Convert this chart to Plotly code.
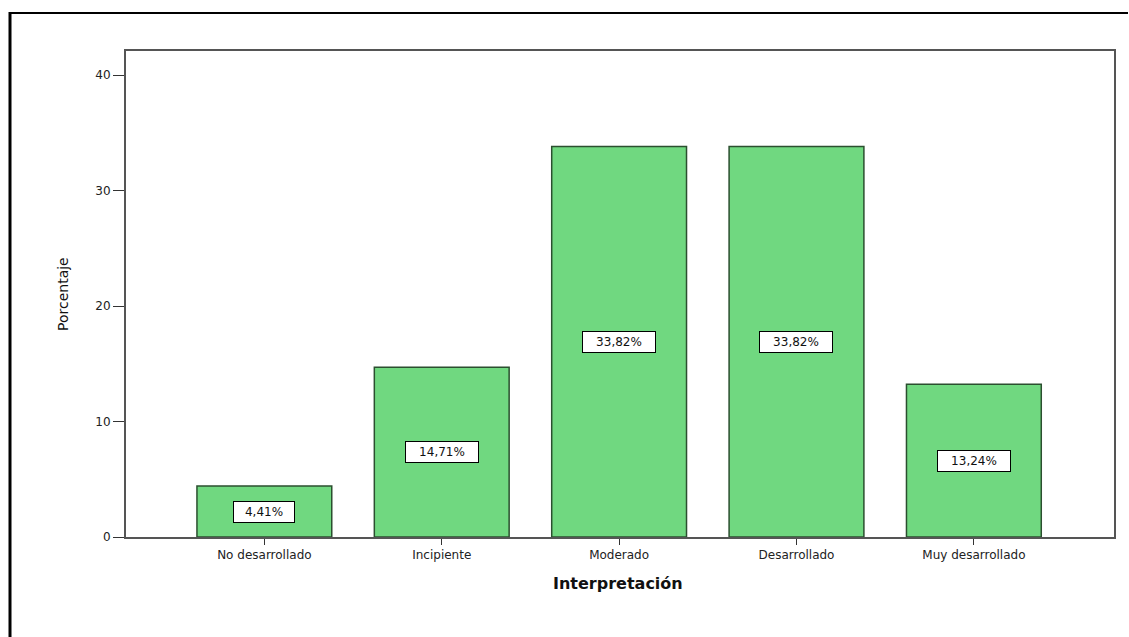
import plotly.graph_objects as go

categorias = ["No desarrollado", "Incipiente", "Moderado", "Desarrollado", "Muy desarrollado"]
porcentajes = [4.41, 14.71, 33.82, 33.82, 13.24]
etiquetas = ["4,41%", "14,71%", "33,82%", "33,82%", "13,24%"]
y_ticks = [0, 10, 20, 30, 40]

FONT = "DejaVu Sans, Verdana, sans-serif"
W, H = 1129, 637
L, T, R, B = 126, 51, 15, 100
plot_w = W - L - R
plot_h = H - T - B

fig = go.Figure()
fig.add_trace(go.Bar(
    x=list(range(len(categorias))),
    y=porcentajes,
    marker=dict(color="#70D880", line=dict(color="#2B4F2F", width=1.5)),
    hoverinfo="skip",
))

# value labels in boxed text at half of each bar
for i, (v, t) in enumerate(zip(porcentajes, etiquetas)):
    fig.add_annotation(
        x=i, y=v / 2, text=t, showarrow=False,
        font=dict(family=FONT, size=12, color="#111111"),
        width=12 * len(t) - 2, height=18,
        bgcolor="#FFFFFF", bordercolor="#000000", borderwidth=1, borderpad=1,
    )

# axis titles
fig.add_annotation(
    x=(618 - L) / plot_w, y=(537 - 583) / plot_h, xref="paper", yref="paper",
    xanchor="center", yanchor="middle",
    text="<b>Interpretación</b>", showarrow=False,
    font=dict(family=FONT, size=16, color="#111111"),
)
fig.add_annotation(
    x=(63 - L) / plot_w, y=(537 - 294) / plot_h, xref="paper", yref="paper",
    xanchor="center", yanchor="middle",
    text="Porcentaje", textangle=-90, showarrow=False,
    font=dict(family=FONT, size=14, color="#111111"),
)

# outer frame (top and left edges)
px = lambda x: (x - L) / plot_w
py = lambda y: (537 - y) / plot_h
fig.add_shape(type="line", xref="paper", yref="paper",
              x0=px(9), x1=px(1128), y0=py(13), y1=py(13),
              line=dict(color="#000000", width=2))
fig.add_shape(type="line", xref="paper", yref="paper",
              x0=px(10), x1=px(10), y0=py(12), y1=py(640),
              line=dict(color="#000000", width=3))

fig.update_xaxes(
    range=[-0.78, 4.79],
    tickmode="array", tickvals=list(range(len(categorias))), ticktext=categorias,
    ticks="outside", ticklen=6, tickcolor="#333333", tickwidth=1,
    tickfont=dict(family=FONT, size=12, color="#222222"),
    showline=True, linecolor="#555555", linewidth=2, mirror=True,
    showgrid=False, zeroline=False,
)
fig.update_yaxes(
    range=[0, 42.1],
    tickmode="array", tickvals=y_ticks,
    ticks="outside", ticklen=11, tickcolor="#333333", tickwidth=1,
    tickfont=dict(family=FONT, size=12, color="#222222"),
    showline=True, linecolor="#555555", linewidth=2, mirror=True,
    showgrid=False, zeroline=False,
)
fig.update_layout(
    width=W, height=H,
    margin=dict(l=L, r=R, t=T, b=B),
    paper_bgcolor="#FFFFFF", plot_bgcolor="#FFFFFF",
    bargap=0.24, showlegend=False,
)
fig.write_html("out.html")
